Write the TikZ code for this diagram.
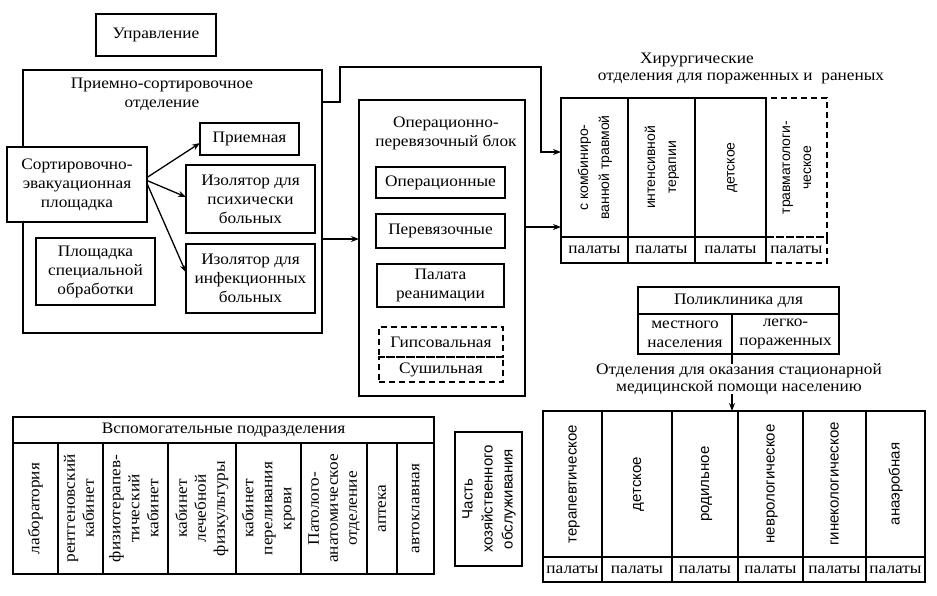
\documentclass[tikz,border=0pt]{standalone}
\usepackage{fontspec}
\usepackage{graphicx}
\setmainfont[FakeStretch=1.08]{Liberation Serif}
\newfontfamily\sansf{Liberation Sans}
\usetikzlibrary{arrows.meta}
\newcommand\vt[1]{\rotatebox{90}{\begin{tabular}{@{}c@{}}#1\end{tabular}}}
\begin{document}
\begin{tikzpicture}[x=1pt,y=-1pt,
  every node/.style={outer sep=0pt},
  box/.style={draw, line width=1.3pt, inner sep=1pt, align=center, font=\fontsize{16}{19}\selectfont},
  dbox/.style={box, dash pattern=on 6pt off 4pt},
  txt/.style={inner sep=0pt, align=center, font=\fontsize{16}{19}\selectfont},
  vs/.style={font=\sansf\fontsize{14}{21}\selectfont},
  vsb/.style={font=\sansf\fontsize{15}{20}\selectfont},
  arr/.style={line width=1.3pt, -{Stealth[length=8pt,width=6pt]}},
  ln/.style={line width=1.3pt}]
\useasboundingbox (0,0) rectangle (937,595);
% Upravlenie
\node[box, minimum width=120, minimum height=42] (upr) at (156,35) {Управление};
% Priemno-sortirovochnoe
\node[box, minimum width=299, minimum height=263] (priem) at (172.5,201.5) {};
\node[txt] (priemT) at (162,94) {Приемно-сортировочное\\отделение};
\node[box, fill=white, minimum width=140, minimum height=75] (sort) at (77,184.5) {Сортировочно-\\эвакуационная\\площадка};
\node[box, minimum width=99, minimum height=32] (pr) at (249.5,139) {Приемная};
\node[box, minimum width=129, minimum height=68] (iz1) at (250.5,199) {Изолятор для\\психически\\больных};
\node[box, minimum width=129, minimum height=69] (iz2) at (250.5,278.5) {Изолятор для\\инфекционных\\больных};
\node[box, minimum width=119, minimum height=67] (pl) at (95.5,271.5) {Площадка\\специальной\\обработки};
% Operating block
\node[box, minimum width=166, minimum height=296] (ob) at (442,248) {};
\node[txt] (obT) at (446,133) {Операционно-\\перевязочный блок};
\node[box, minimum width=129, minimum height=31] (oper) at (440.5,182.5) {Операционные};
\node[box, minimum width=129, minimum height=34] (perev) at (440.5,231) {Перевязочные};
\node[box, minimum width=127, minimum height=43] (rean) at (440.5,285.5) {Палата\\реанимации};
\node[dbox, minimum width=124, minimum height=30] (gips) at (441,342) {Гипсовальная};
\node[dbox, minimum width=124, minimum height=25] (sush) at (441,369.5) {Сушильная};
% Surgical departments
\node[txt] (hirT1) at (697,60) {Хирургические};
\node[txt] (hirT2) at (741,78) {отделения для пораженных и\ \ раненых};
\node[box, vs, minimum width=67, minimum height=139] (h1) at (594.5,167.5) {\vt{с комбиниро-\\ванной травмой}};
\node[box, vs, minimum width=67, minimum height=139] (h2) at (661.5,167.5) {\vt{интенсивной\\терапии}};
\node[box, vs, minimum width=71, minimum height=139] (h3) at (730.5,167.5) {\vt{детское}};
\node[dbox, vs, minimum width=61, minimum height=139] (h4) at (796.5,167.5) {\vt{травматологи-\\ческое}};
\node[box, minimum width=67, minimum height=26] (hp1) at (594.5,250) {палаты};
\node[box, minimum width=67, minimum height=26] (hp2) at (661.5,250) {палаты};
\node[box, minimum width=71, minimum height=26] (hp3) at (730.5,250) {палаты};
\node[dbox, minimum width=61, minimum height=26] (hp4) at (796.5,250) {палаты};
% Polyclinic
\node[box, minimum width=201, minimum height=27] (polT) at (738.5,300.5) {Поликлиника для};
\node[box, minimum width=94, minimum height=40] (pol1) at (685,334) {местного\\населения};
\node[box, minimum width=107, minimum height=40] (pol2) at (785.5,334) {легко-\\пораженных};
\node[txt, font=\fontsize{16}{16.5}\selectfont] (otdT) at (739,379) {Отделения для оказания стационарной\\медицинской помощи населению};
% Inpatient departments
\node[box, vsb, minimum width=59, minimum height=146] (r1) at (572.5,484) {\vt{терапевтическое}};
\node[box, vsb, minimum width=70, minimum height=146] (r2) at (637,484) {\vt{детское}};
\node[box, vsb, minimum width=66, minimum height=146] (r3) at (705,484) {\vt{родильное}};
\node[box, vsb, minimum width=65, minimum height=146] (r4) at (770.5,484) {\vt{неврологическое}};
\node[box, vsb, minimum width=63, minimum height=146] (r5) at (834.5,484) {\vt{гинекологическое}};
\node[box, vsb, minimum width=59, minimum height=146] (r6) at (895.5,484) {\vt{анаэробная}};
\node[box, minimum width=59, minimum height=25] (rp1) at (572.5,569.5) {палаты};
\node[box, minimum width=70, minimum height=25] (rp2) at (637,569.5) {палаты};
\node[box, minimum width=66, minimum height=25] (rp3) at (705,569.5) {палаты};
\node[box, minimum width=65, minimum height=25] (rp4) at (770.5,569.5) {палаты};
\node[box, minimum width=63, minimum height=25] (rp5) at (834.5,569.5) {палаты};
\node[box, minimum width=59, minimum height=25] (rp6) at (895.5,569.5) {палаты};
% Auxiliary units
\node[box, minimum width=421, minimum height=26] (vsp) at (223.5,430) {Вспомогательные подразделения};
\node[box, minimum width=45, minimum height=131] (v1) at (35.5,508.5) {\vt{лаборатория}};
\node[box, minimum width=45, minimum height=131] (v2) at (80.5,508.5) {\vt{рентгеновский\\кабинет}};
\node[box, minimum width=65, minimum height=131] (v3) at (135.5,508.5) {\vt{физиотерапев-\\тический\\кабинет}};
\node[box, minimum width=68, minimum height=131] (v4) at (202,508.5) {\vt{кабинет\\лечебной\\физкультуры}};
\node[box, minimum width=65, minimum height=131] (v5) at (268.5,508.5) {\vt{кабинет\\переливания\\крови}};
\node[box, minimum width=66, minimum height=131] (v6) at (334,508.5) {\vt{Патолого-\\анатомическое\\отделение}};
\node[box, minimum width=30, minimum height=131] (v7) at (382,508.5) {\vt{аптека}};
\node[box, minimum width=37, minimum height=131] (v8) at (415.5,508.5) {\vt{автоклавная}};
% Household part
\node[box, font=\sansf\fontsize{15}{20}\selectfont, minimum width=67, minimum height=134] (chast) at (488.5,499) {\vt{Часть\\хозяйственного\\обслуживания}};
% Connectors
\draw[arr] ([yshift=-32pt]priem.north east) -| (340,67) -| ([xshift=-20pt,yshift=15.5pt]h1.west) -- ([yshift=15.5pt]h1.west);
\draw[arr] ([yshift=9pt]ob.west -| priem.east) -- ([yshift=9pt]ob.west);
\draw[arr] ([yshift=21pt]ob.east) -- ([yshift=21pt]ob.east -| h1.west);
\draw[arr] ([yshift=7pt]sort.east) -- ([yshift=-4pt]pr.west);
\draw[arr] ([yshift=4pt]sort.east) -- ([yshift=2pt]iz1.west);
\draw[arr] ([yshift=1pt]sort.east) -- ([yshift=6pt]iz2.west);
\draw[ln] (pol1.south east) -- (pol1.south east |- otdT.north);
\draw[arr] (pol1.south east |- otdT.south) -- (pol1.south east |- r3.north);
\end{tikzpicture}
\end{document}
